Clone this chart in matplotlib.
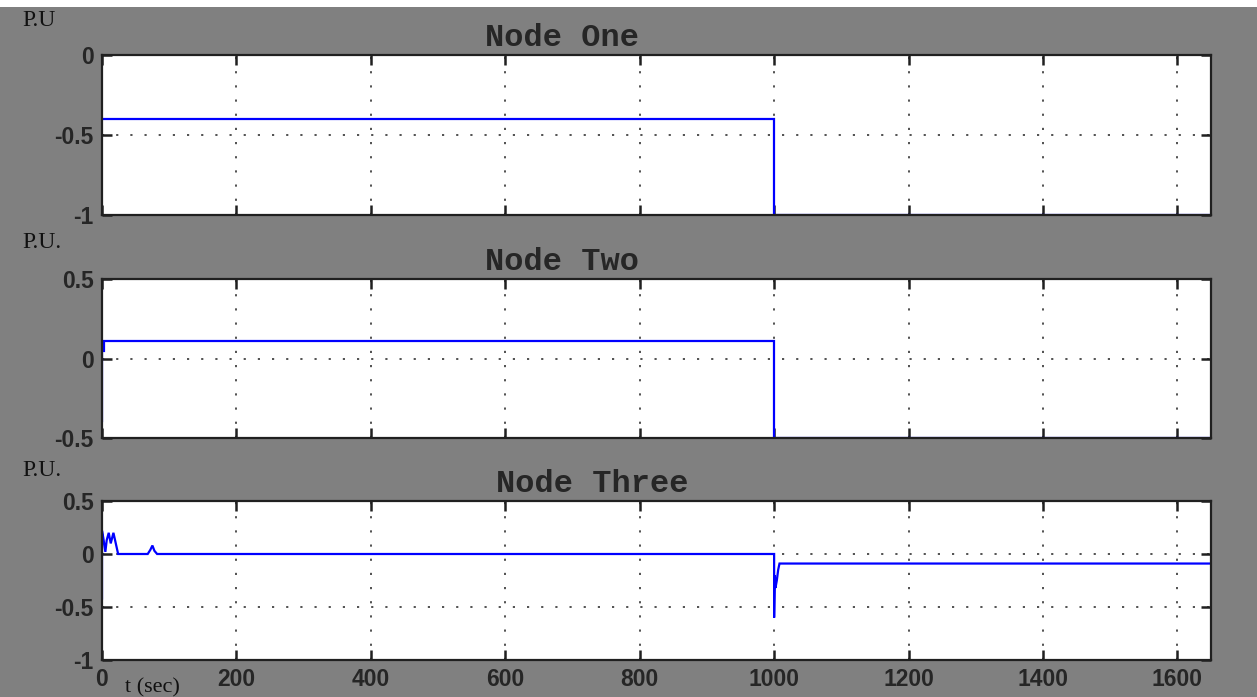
import numpy as np
import matplotlib
matplotlib.use('Agg')
import matplotlib.pyplot as plt
from matplotlib.patches import Rectangle

# node voltage traces (per unit) against time in seconds
t_one = [0, 1000, 1000, 1650]
v_one = [-0.4, -0.4, -1.0, -1.0]

t_two = [0, 0, 3, 3, 1000, 1000, 1650]
v_two = [-0.39, 0.05, 0.05, 0.11, 0.11, -0.5, -0.5]

t_three = [0, 0, 2, 5, 7, 10, 13, 17, 24, 68, 72, 75, 78, 82,
           1000, 1000, 1001, 1002, 1004, 1006, 1008, 1650]
v_three = [-0.42, 0.22, 0.15, 0.02, 0.13, 0.2, 0.1, 0.2, 0.0, 0.0, 0.04, 0.08, 0.03, 0.0,
           0.0, -0.6, -0.2, -0.32, -0.25, -0.15, -0.09, -0.09]

titles = ['Node One', 'Node Two', 'Node Three']
ylabels = ['P.U', 'P.U.', 'P.U.']
ylims = [(-1, 0), (-0.5, 0.5), (-1, 0.5)]
yticks = [[-1, -0.5, 0], [-0.5, 0, 0.5], [-1, -0.5, 0, 0.5]]
ytick_labels = [['-1', '-0.5', '0'], ['-0.5', '0', '0.5'], ['-1', '-0.5', '0', '0.5']]
xticks = [0, 200, 400, 600, 800, 1000, 1200, 1400, 1600]

W, H = 1257, 697
fig = plt.figure(figsize=(W / 100, H / 100), dpi=100, facecolor='#808080')
fig.patches.append(Rectangle((0, 1 - 7 / H), 1, 7 / H, transform=fig.transFigure,
                             facecolor='white', edgecolor='none', zorder=-1))

# axes boxes in pixel rows (top, bottom)
rows = [(55, 215), (279, 438), (501, 660)]
left, right = 102, 1211
title_x = [562, 562, 592]
label_y = [21, 243, 471]

series = [(t_one, v_one), (t_two, v_two), (t_three, v_three)]
tick_font = dict(family='Liberation Sans', size=16.5, weight='bold', color='#262626')

for i, (top, bot) in enumerate(rows):
    ax = fig.add_axes([left / W, 1 - bot / H, (right - left) / W, (bot - top) / H])
    t, v = series[i]
    ax.plot(t, v, color='#0000ff', lw=1.6, solid_joinstyle='miter')
    ax.set_xlim(0, 1650)
    ax.set_ylim(*ylims[i])
    ax.set_xticks(xticks)
    ax.set_yticks(yticks[i])
    ax.set_yticklabels(ytick_labels[i], fontdict=tick_font)
    if i == 2:
        ax.set_xticklabels([str(x) for x in xticks], fontdict=tick_font)
    else:
        ax.set_xticklabels([])
    ax.tick_params(direction='in', length=7, width=1.8, top=True, right=True,
                   color='#202020', pad=6)
    ax.grid(True, color='#333333', linestyle=(0, (1.3, 7.2)), linewidth=1.2)
    for s in ax.spines.values():
        s.set_linewidth(1.6)
        s.set_color('#202020')
    fig.text(title_x[i] / W, 1 - (top - 17) / H, titles[i], ha='center', va='center',
             family='Liberation Mono', size=23, weight='bold', color='#262626')
    fig.text(22 / W, 1 - label_y[i] / H, ylabels[i], ha='left', va='center',
             family='Liberation Serif', size=17, color='#111111')

fig.text(125 / W, 1 - 688 / H, 't (sec)', ha='left', va='center',
         family='Liberation Serif', size=16, color='#111111')

fig.savefig('out.png', dpi=100, facecolor=fig.get_facecolor())
